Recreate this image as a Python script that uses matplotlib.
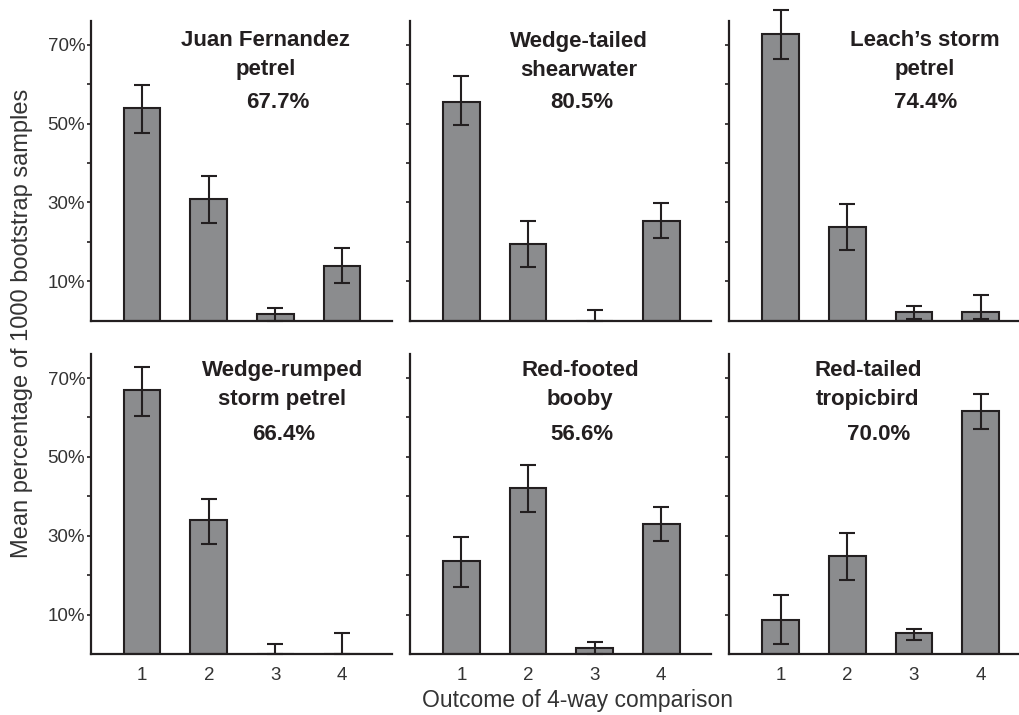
import matplotlib
matplotlib.use('Agg')
import matplotlib.pyplot as plt
import numpy as np

plt.rcParams['font.family'] = ['Liberation Sans', 'DejaVu Sans']

# species names, overall percentage, and per-outcome bootstrap means (%)
species = ["Juan Fernandez\npetrel", "Wedge-tailed\nshearwater", "Leach\u2019s storm\npetrel",
           "Wedge-rumped\nstorm petrel", "Red-footed\nbooby", "Red-tailed\ntropicbird"]
overall = ["67.7%", "80.5%", "74.4%", "66.4%", "56.6%", "70.0%"]
outcomes = [1, 2, 3, 4]

means = [[53.9, 30.8, 1.6, 14.0],
         [55.6, 19.4, 0.0, 25.4],
         [72.8, 23.8, 2.1, 2.1],
         [66.9, 33.9, 0.0, 0.0],
         [23.7, 42.1, 1.5, 32.9],
         [8.6, 24.8, 5.3, 61.6]]
upper = [[59.8, 36.7, 3.3, 18.4],
         [62.0, 25.4, 2.7, 29.8],
         [78.8, 29.7, 3.8, 6.5],
         [72.9, 39.4, 2.6, 5.3],
         [29.6, 48.0, 3.1, 37.2],
         [15.0, 30.7, 6.4, 65.9]]
lower = [[47.5, 24.9, 0.0, 9.6],
         [49.6, 13.5, 0.0, 21.0],
         [66.3, 17.9, 0.4, 0.5],
         [60.4, 28.0, 0.0, 0.0],
         [17.1, 36.1, 0.0, 28.6],
         [2.6, 18.8, 3.6, 57.2]]

# text placement per panel (axes fraction)
title_x = [0.58, 0.56, 0.648, 0.636, 0.565, 0.46]
pct_x = [0.621, 0.571, 0.653, 0.64, 0.571, 0.497]

W, H = 1020, 715
fig = plt.figure(figsize=(W / 100, H / 100), dpi=100)

lefts = [90.7, 410.0, 729.3]
tops = [20.7, 354.0]
aw, ah = 301.0, 300.0

bar_color = '#8b8c8e'
edge = '#231f20'
txt = '#231f20'

for i in range(6):
    r, c = divmod(i, 3)
    ax = fig.add_axes([lefts[c] / W, (H - tops[r] - ah) / H, aw / W, ah / H])
    m = np.array(means[i])
    yerr = [m - np.array(lower[i]), np.array(upper[i]) - m]
    ax.bar(outcomes, m, width=0.55, color=bar_color, edgecolor=edge, linewidth=1.5, zorder=2)
    ax.errorbar(outcomes, m, yerr=yerr, fmt='none', ecolor=edge, elinewidth=1.5,
                capsize=6, capthick=1.5, zorder=3, clip_on=False)
    ax.set_xlim(0.227, 4.747)
    ax.set_ylim(0, 76.1)
    for s in ['top', 'right']:
        ax.spines[s].set_visible(False)
    for s in ['left', 'bottom']:
        ax.spines[s].set_linewidth(1.6)
        ax.spines[s].set_color(edge)
    ax.set_yticks([10, 20, 30, 40, 50, 60, 70])
    if c == 0:
        ax.set_yticklabels(['10%', '', '30%', '', '50%', '', '70%'])
    else:
        ax.set_yticklabels([])
    ax.tick_params(axis='y', length=3, width=1.2, color=edge, labelsize=13.5,
                   labelcolor='#333333', pad=1)
    ax.set_xticks(outcomes)
    if r == 1:
        ax.set_xticklabels([str(o) for o in outcomes])
    else:
        ax.set_xticklabels([])
    ax.tick_params(axis='x', length=0, labelsize=13.5, labelcolor='#333333', pad=9)
    ax.patch.set_alpha(0)

    ty = 0.884 if r == 0 else 0.896
    ax.text(title_x[i], ty, species[i], transform=ax.transAxes, ha='center', va='center',
            fontsize=16, fontweight='bold', color=txt, linespacing=1.5)
    ax.text(pct_x[i], 0.727 if r == 0 else 0.73, overall[i], transform=ax.transAxes,
            ha='center', va='center', fontsize=16, fontweight='bold', color=txt)

fig.text(22 / W, 1 - 323 / H, "Mean percentage of 1000 bootstrap samples", rotation=90,
         ha='center', va='center', fontsize=17, color='#333333')
fig.text(578 / W, 1 - 700 / H, "Outcome of 4-way comparison", ha='center', va='center',
         fontsize=16.5, color='#333333')

fig.savefig('out.png', dpi=100)
